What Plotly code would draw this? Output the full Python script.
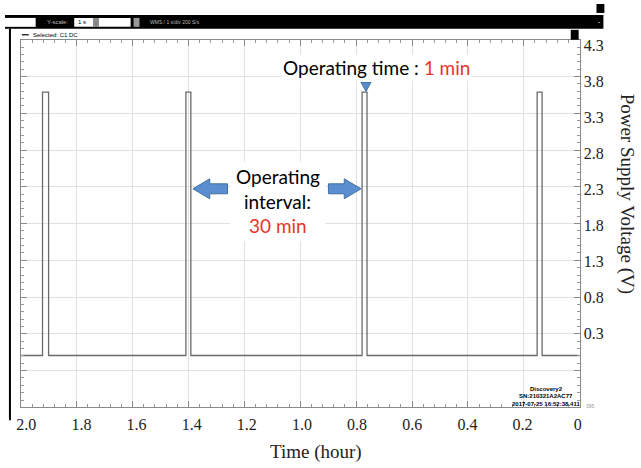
import plotly.graph_objects as go

# ---------------- data ----------------
pulse_start_h = [1.941, 1.421, 0.782, 0.147]   # rising edge (hour)
pulse_end_h = [1.919, 1.403, 0.764, 0.129]     # falling edge (hour)
high_v = 3.65
low_v = 0.0
record_start_h = 2.0197
record_end_h = -0.0072

x_tick_vals = [2.0, 1.8, 1.6, 1.4, 1.2, 1.0, 0.8, 0.6, 0.4, 0.2, 0.0]
x_tick_text = ["2.0", "1.8", "1.6", "1.4", "1.2", "1.0", "0.8", "0.6", "0.4", "0.2", "0"]
y_tick_vals = [4.3, 3.8, 3.3, 2.8, 2.3, 1.8, 1.3, 0.8, 0.3]
y_tick_text = ["4.3", "3.8", "3.3", "2.8", "2.3", "1.8", "1.3", "0.8", "0.3"]
y_range = [-0.719, 4.376]

# ---------------- geometry helpers ----------------
W, H = 641, 468


def px(x):
    return x / W


def py(y):
    return 1 - y / H


xdom = [px(16), px(581)]
ydom = [py(407), py(37)]

# build waveform from pulse edges
xs = [record_start_h]
ys = [low_v]
for s, e in zip(pulse_start_h, pulse_end_h):
    xs += [s, s, e, e]
    ys += [low_v, high_v, high_v, low_v]
xs.append(record_end_h)
ys.append(low_v)

fig = go.Figure()
fig.add_trace(go.Scatter(x=xs, y=ys, mode="lines",
                         line=dict(color="#6a6a6a", width=1.3),
                         showlegend=False, hoverinfo="skip"))
# invisible trace for the oscilloscope grid axes
fig.add_trace(go.Scatter(x=[None], y=[None], xaxis="x3", yaxis="y3",
                         showlegend=False, hoverinfo="skip"))

serif = "Liberation Serif, Times New Roman, serif"
sans = "Lato, Noto Sans, sans-serif"

fig.update_layout(
    width=W, height=H, autosize=False,
    margin=dict(l=0, r=0, t=0, b=0),
    paper_bgcolor="white", plot_bgcolor="rgba(0,0,0,0)",
    xaxis=dict(domain=xdom, range=[record_start_h, record_end_h],
               tickvals=x_tick_vals, ticktext=x_tick_text,
               showgrid=False, zeroline=False, showline=False,
               ticks="", ticklabelstandoff=6,
               tickfont=dict(family=serif, size=16, color="#222")),
    yaxis=dict(domain=ydom, range=y_range, side="right",
               tickvals=y_tick_vals, ticktext=y_tick_text,
               showgrid=False, zeroline=False, showline=False,
               ticks="", ticklabelstandoff=3,
               tickfont=dict(family=serif, size=16, color="#222")),
    xaxis3=dict(overlaying="x", anchor="y3", range=[0, 10], dtick=1,
                showgrid=True, gridcolor="#e0e0e0", gridwidth=1,
                zeroline=False, showline=True, linecolor="#8a8a8a",
                mirror="ticks", ticks="inside", ticklen=6, tickcolor="#8a8a8a",
                showticklabels=False,
                minor=dict(dtick=0.2, ticks="inside", ticklen=3,
                           tickcolor="#9a9a9a", showgrid=False)),
    yaxis3=dict(overlaying="y", anchor="x3", range=[0, 10], dtick=1,
                showgrid=True, gridcolor="#e0e0e0", gridwidth=1,
                zeroline=False, showline=True, linecolor="#8a8a8a",
                mirror="ticks", ticks="inside", ticklen=6, tickcolor="#8a8a8a",
                showticklabels=False,
                minor=dict(dtick=0.2, ticks="inside", ticklen=3,
                           tickcolor="#9a9a9a", showgrid=False)),
)

shapes = []
# scope chrome: top black bar
shapes.append(dict(type="rect", xref="paper", yref="paper",
                   x0=px(0), x1=px(605), y0=py(26), y1=py(12),
                   fillcolor="black", line=dict(width=0), layer="above"))
# white input boxes in the bar
for (a, b) in [(0, 31), (70, 127)]:
    shapes.append(dict(type="rect", xref="paper", yref="paper",
                       x0=px(a), x1=px(b), y0=py(24), y1=py(15),
                       fillcolor="white", line=dict(width=0), layer="above"))
# small icons
shapes.append(dict(type="rect", xref="paper", yref="paper",
                   x0=px(598), x1=px(606), y0=py(10), y1=py(1),
                   fillcolor="black", line=dict(width=0), layer="above"))
shapes.append(dict(type="rect", xref="paper", yref="paper",
                   x0=px(572), x1=px(580), y0=py(37), y1=py(27),
                   fillcolor="black", line=dict(width=0), layer="above"))
shapes.append(dict(type="rect", xref="paper", yref="paper",
                   x0=px(89), x1=px(95), y0=py(24), y1=py(15),
                   fillcolor="#888", line=dict(width=0), layer="above"))
shapes.append(dict(type="rect", xref="paper", yref="paper",
                   x0=px(130), x1=px(136), y0=py(24), y1=py(15),
                   fillcolor="#999", line=dict(width=0), layer="above"))
# left black frame line
shapes.append(dict(type="line", xref="paper", yref="paper",
                   x0=px(5), x1=px(5), y0=py(420), y1=py(26),
                   line=dict(color="black", width=2), layer="above"))
# legend dash for "Selected"
shapes.append(dict(type="line", xref="paper", yref="paper",
                   x0=px(17), x1=px(24), y0=py(32), y1=py(32),
                   line=dict(color="black", width=1.2), layer="above"))


def block_arrow(tip_x, tail_x, cy, head_len=17, head_half=10, body_half=5):
    d = 1 if tail_x > tip_x else -1
    hx = tip_x + d * head_len
    pts = [(tip_x, cy), (hx, cy - head_half), (hx, cy - body_half),
           (tail_x, cy - body_half), (tail_x, cy + body_half),
           (hx, cy + body_half), (hx, cy + head_half)]
    path = "M " + " L ".join(f"{px(x):.5f},{py(y):.5f}" for x, y in pts) + " Z"
    return dict(type="path", xref="paper", yref="paper", path=path,
                fillcolor="#5b8ed0", line=dict(color="#41719c", width=1),
                layer="above")


# white boxes behind the annotation texts
shapes.append(dict(type="rect", xref="paper", yref="paper",
                   x0=px(228), x1=px(324), y0=py(240), y1=py(160),
                   fillcolor="white", line=dict(width=0), layer="above"))
shapes.append(block_arrow(190, 225, 187))
shapes.append(block_arrow(360, 327, 187))
# small down arrow
pts = [(360, 80), (370, 80), (365, 89)]
shapes.append(dict(type="path", xref="paper", yref="paper",
                   path="M " + " L ".join(f"{px(x):.5f},{py(y):.5f}" for x, y in pts) + " Z",
                   fillcolor="#5b8ed0", line=dict(color="#41719c", width=1),
                   layer="above"))
fig.update_layout(shapes=shapes)

ann = []


def text(x, y, s, size, family, color="black", xanchor="center", angle=0, bg=None):
    d = dict(xref="paper", yref="paper", x=px(x), y=py(y), text=s,
             showarrow=False, xanchor=xanchor, yanchor="middle",
             textangle=angle, font=dict(size=size, family=family, color=color))
    if bg:
        d["bgcolor"] = bg
    ann.append(d)


red = "#e8352b"
text(376, 65, "Operating time : <span style='color:%s'>1 min</span>" % red, 19, sans, bg="white")
text(276, 175, "Operating", 19, sans)
text(276, 200, "interval:", 19, sans)
text(276, 224, "30 min", 19, sans, color=red)
text(314, 452, "Time (hour)", 19, serif, color="#222")
text(629, 192, "Power Supply Voltage (V)", 19, serif, color="#222", angle=90)
# scope chrome texts
text(26, 32, "Selected: C1 DC", 6, "Liberation Sans", xanchor="left")
text(40, 19, "Y-scale:", 6, "Liberation Sans", color="#bbb", xanchor="left")
text(72, 19, "1 s", 6, "Liberation Sans", xanchor="left")
text(145, 19, "WMS / 1 s/div 200 S/s", 5, "Liberation Sans", color="#bbb", xanchor="left")
text(601, 19, "-", 7, "Liberation Sans", color="white")
text(547, 388, "<b>Discovery2</b>", 6, "Liberation Sans")
text(547, 396, "<b>SN:210321A2AC77</b>", 6, "Liberation Sans")
text(547, 404, "<b>2017-07-25 16:52:38.411</b>", 6, "Liberation Sans")
text(592, 406, "395", 5, "Liberation Sans", color="#999")
fig.update_layout(annotations=ann)

fig.write_html("out.html", config={"displayModeBar": False},
               post_script="document.body.style.margin='0';")
